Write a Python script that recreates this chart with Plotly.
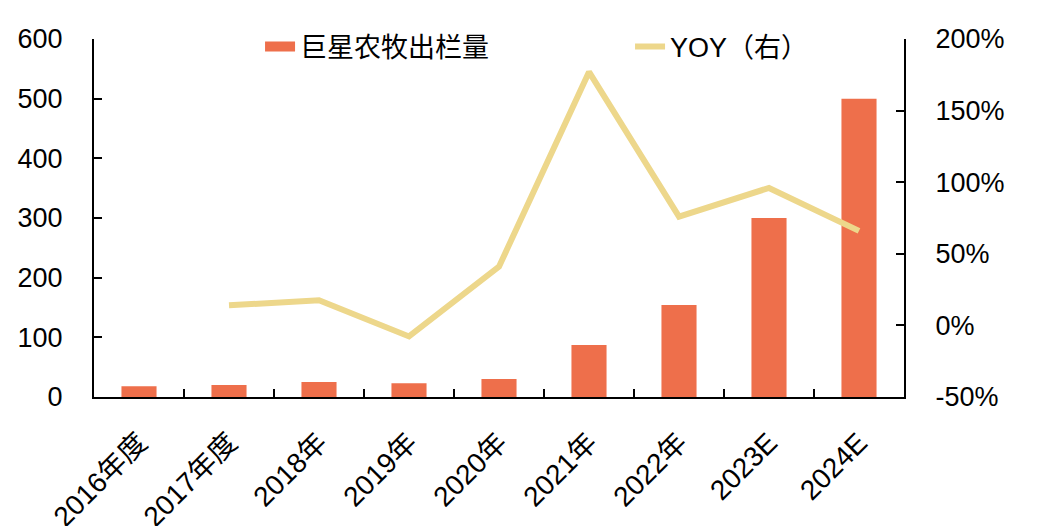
import plotly.graph_objects as go

categories = ["2016年度", "2017年度", "2018年", "2019年", "2020年", "2021年", "2022年", "2023E", "2024E"]
volume = [18, 20, 25, 23, 30, 87, 154, 300, 500]
yoy = [None, 14, 17.5, -7.7, 41, 177, 76, 96, 66]
yoy_ticks = [-50, 0, 50, 100, 150, 200]
yoy_ticktext = ["-50%", "0%", "50%", "100%", "150%", "200%"]

FONT = "Liberation Sans, Arial, Noto Sans CJK SC, sans-serif"
BAR_COLOR = "#EE6F4B"
LINE_COLOR = "#EDD78B"

fig = go.Figure()
fig.add_trace(go.Bar(
    x=categories, y=volume, name="巨星农牧出栏量", showlegend=False,
    marker=dict(color=BAR_COLOR, line=dict(width=0)), width=0.39, yaxis="y",
))
# legend-only entry for the bar series (wide swatch)
fig.add_trace(go.Scatter(
    x=[None], y=[None], name="巨星农牧出栏量", mode="lines",
    line=dict(color=BAR_COLOR, width=14), yaxis="y", showlegend=True,
))
fig.add_trace(go.Scatter(
    x=categories, y=yoy, name="YOY（右）", mode="lines",
    line=dict(color=LINE_COLOR, width=6), yaxis="y2", connectgaps=False,
))

fig.update_layout(
    width=1048, height=526,
    margin=dict(l=86, r=152, t=31, b=137, autoexpand=False),
    paper_bgcolor="white", plot_bgcolor="white",
    font=dict(family=FONT, size=27, color="black"),
    showlegend=True,
    legend=dict(orientation="h", x=0.205, y=0.978, xanchor="left", yanchor="middle",
                font=dict(size=27), bgcolor="rgba(0,0,0,0)",
                entrywidth=325, entrywidthmode="pixels",
                traceorder="normal"),
    xaxis=dict(
        type="category", showline=True, linecolor="black", linewidth=2,
        ticks="inside", tickson="boundaries", ticklen=8, tickcolor="black", tickwidth=2,
        tickangle=-45, tickfont=dict(size=28), showgrid=False, zeroline=False,
        automargin=False, ticklabelstandoff=16,
    ),
    yaxis=dict(
        range=[0, 600], dtick=100, showline=True, linecolor="black", linewidth=2,
        ticks="inside", ticklen=8, tickcolor="black", tickwidth=2,
        showgrid=False, zeroline=False, tickfont=dict(size=27), ticklabelstandoff=24,
        automargin=False,
    ),
    yaxis2=dict(
        range=[-50, 200], tickvals=yoy_ticks, ticktext=yoy_ticktext,
        overlaying="y", side="right",
        showline=True, linecolor="black", linewidth=2,
        ticks="inside", ticklen=8, tickcolor="black", tickwidth=2,
        showgrid=False, zeroline=False, tickfont=dict(size=27),
        ticklabelstandoff=24, automargin=False,
    ),
)

fig.write_html("out.html")
